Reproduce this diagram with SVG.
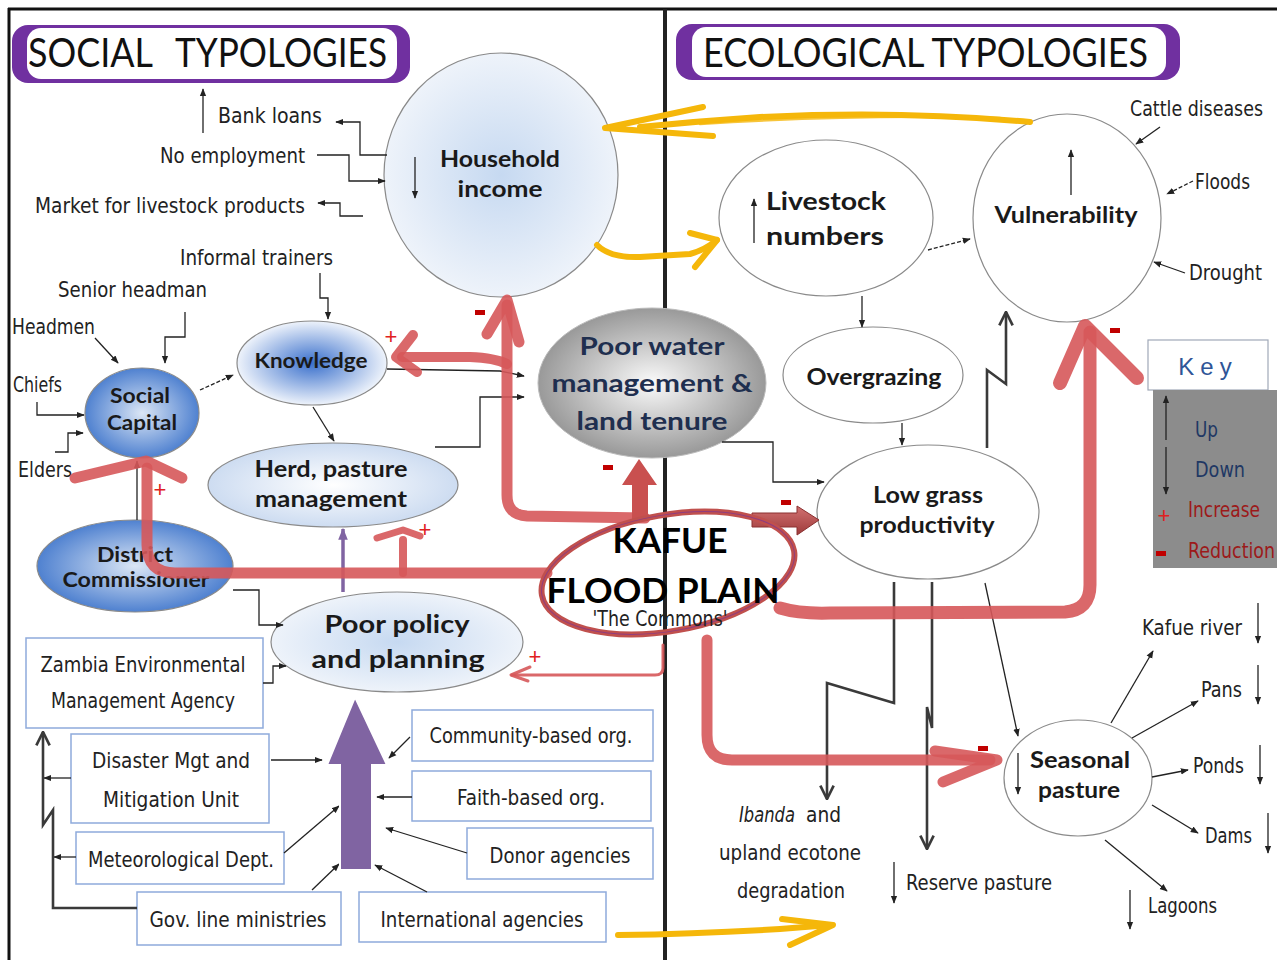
<svg xmlns="http://www.w3.org/2000/svg" width="1277" height="960" viewBox="0 0 1277 960">
<defs>
<style>
.n{font-family:'Liberation Sans Narrow','DejaVu Sans Condensed','Liberation Sans',sans-serif;font-size:22px;fill:#222}
.b{font-family:Lato,'Liberation Sans',sans-serif;font-weight:700;fill:#1a1a1a;text-anchor:middle}
.t{font-family:Lato,'Liberation Sans',sans-serif;font-size:40px;fill:#111}
.c{stroke:#222;stroke-width:1.3;fill:none}
.g{stroke:#3a3a3a;stroke-width:2.6;fill:none}
.r{stroke:#d6585a;fill:none;stroke-linecap:round;stroke-linejoin:round;opacity:0.9}
.y{stroke:#f5b70a;fill:none;stroke-linecap:round;stroke-linejoin:round}
.bx{fill:#fff;stroke:#8eaadb;stroke-width:1.5}
.nd{stroke:#8a8a8a;stroke-width:1.2}
.plus{font-family:'Liberation Sans',sans-serif;font-size:22px;fill:#e02020;text-anchor:middle}
.minus{fill:#c00000}
</style>
<marker id="a" viewBox="0 0 10 10" refX="9" refY="5" markerWidth="8" markerHeight="8" markerUnits="userSpaceOnUse" orient="auto"><path d="M0,1 L10,5 L0,9 z" fill="#222"/></marker>
<marker id="o" viewBox="0 0 12 12" refX="11" refY="6" markerWidth="16" markerHeight="16" markerUnits="userSpaceOnUse" orient="auto"><path d="M1,1 L11,6 L1,11" fill="none" stroke="#3a3a3a" stroke-width="2"/></marker>
<marker id="p" viewBox="0 0 10 10" refX="9" refY="5" markerWidth="12" markerHeight="12" markerUnits="userSpaceOnUse" orient="auto"><path d="M0,1 L10,5 L0,9 z" fill="#8064a2"/></marker>
<radialGradient id="gHH"><stop offset="0" stop-color="#c6d9f1"/><stop offset="1" stop-color="#eef3fa"/></radialGradient>
<radialGradient id="gSC"><stop offset="0" stop-color="#dbe6f5"/><stop offset="1" stop-color="#4f81d0"/></radialGradient>
<radialGradient id="gKn"><stop offset="0" stop-color="#3a70cc"/><stop offset="1" stop-color="#eef3fb"/></radialGradient>
<radialGradient id="gHe"><stop offset="0" stop-color="#ffffff"/><stop offset="1" stop-color="#cddcf1"/></radialGradient>
<radialGradient id="gGr"><stop offset="0" stop-color="#fafafa"/><stop offset="1" stop-color="#999999"/></radialGradient>
<linearGradient id="gD" x1="0" y1="0" x2="0" y2="1"><stop offset="0" stop-color="#d27272"/><stop offset="1" stop-color="#9e3a3a"/></linearGradient>
</defs>

<rect x="0" y="0" width="1277" height="960" fill="#fff"/>
<line x1="8" y1="9" x2="1277" y2="9" stroke="#111" stroke-width="3"/>
<line x1="9" y1="8" x2="9" y2="960" stroke="#111" stroke-width="3"/>
<line x1="665" y1="9" x2="665" y2="960" stroke="#222" stroke-width="4"/>

<g id="title-social">
<rect x="12" y="25" width="398" height="58" rx="16" fill="#7030a0"/>
<rect x="27" y="28" width="370" height="51" rx="14" fill="#fff"/>
<text class="t" x="28" y="67" textLength="125" lengthAdjust="spacingAndGlyphs">SOCIAL</text>
<text class="t" x="175" y="67" textLength="212" lengthAdjust="spacingAndGlyphs">TYPOLOGIES</text>
</g>
<g id="title-ecological">
<rect x="676" y="24" width="504" height="56" rx="16" fill="#7030a0"/>
<rect x="692" y="27" width="474" height="50" rx="14" fill="#fff"/>
<text class="t" x="703" y="67" textLength="445" lengthAdjust="spacingAndGlyphs">ECOLOGICAL TYPOLOGIES</text>
</g>

<g id="labels-social">
<text class="n" x="218" y="123" textLength="104" lengthAdjust="spacingAndGlyphs">Bank loans</text>
<text class="n" x="160" y="163" textLength="145" lengthAdjust="spacingAndGlyphs">No employment</text>
<text class="n" x="35" y="213" textLength="270" lengthAdjust="spacingAndGlyphs">Market for livestock products</text>
<text class="n" x="180" y="265" textLength="153" lengthAdjust="spacingAndGlyphs">Informal trainers</text>
<text class="n" x="58" y="297" textLength="149" lengthAdjust="spacingAndGlyphs">Senior headman</text>
<text class="n" x="12" y="334" textLength="83" lengthAdjust="spacingAndGlyphs">Headmen</text>
<text class="n" x="13" y="392" textLength="49" lengthAdjust="spacingAndGlyphs">Chiefs</text>
<text class="n" x="18" y="477" textLength="54" lengthAdjust="spacingAndGlyphs">Elders</text>
</g>

<g id="household">
<ellipse cx="501" cy="175" rx="117" ry="122" fill="url(#gHH)" class="nd"/>
<text class="b" x="500" y="167" font-size="23" textLength="120" lengthAdjust="spacingAndGlyphs">Household</text>
<text class="b" x="500" y="197" font-size="23" textLength="85" lengthAdjust="spacingAndGlyphs">income</text>
<line x1="415" y1="157" x2="415" y2="198" class="c" marker-end="url(#a)"/>
</g>

<g id="social-capital">
<ellipse cx="142" cy="413" rx="57" ry="45" fill="url(#gSC)" class="nd"/>
<text class="b" x="140" y="403" font-size="20" textLength="60" lengthAdjust="spacingAndGlyphs">Social</text>
<text class="b" x="142" y="430" font-size="20" textLength="70" lengthAdjust="spacingAndGlyphs">Capital</text>
</g>

<g id="knowledge">
<ellipse cx="312" cy="363" rx="75" ry="42" fill="url(#gKn)" class="nd"/>
<text class="b" x="311" y="368" font-size="20" textLength="113" lengthAdjust="spacingAndGlyphs">Knowledge</text>
</g>

<g id="herd">
<ellipse cx="333" cy="485" rx="125" ry="42" fill="url(#gHe)" class="nd"/>
<text class="b" x="331" y="477" font-size="22" textLength="153" lengthAdjust="spacingAndGlyphs">Herd, pasture</text>
<text class="b" x="331" y="507" font-size="22" textLength="152" lengthAdjust="spacingAndGlyphs">management</text>
</g>

<g id="district-commissioner">
<ellipse cx="135" cy="566" rx="98" ry="46" fill="url(#gSC)" class="nd"/>
<text class="b" x="135" y="562" font-size="20" textLength="76" lengthAdjust="spacingAndGlyphs">District</text>
<text class="b" x="136" y="587" font-size="20" textLength="147" lengthAdjust="spacingAndGlyphs">Commissioner</text>
</g>

<g id="poor-policy">
<ellipse cx="397" cy="642" rx="126" ry="50" fill="url(#gHH)" class="nd"/>
<text class="b" x="397" y="633" font-size="25" textLength="145" lengthAdjust="spacingAndGlyphs">Poor policy</text>
<text class="b" x="398" y="668" font-size="25" textLength="173" lengthAdjust="spacingAndGlyphs">and planning</text>
</g>

<g id="poor-water">
<ellipse cx="652" cy="383" rx="114" ry="75" fill="url(#gGr)" stroke="#bbb" stroke-width="1"/>
<text class="b" x="652" y="355" font-size="25" style="fill:#1f2f4f" textLength="145" lengthAdjust="spacingAndGlyphs">Poor water</text>
<text class="b" x="652" y="392" font-size="25" style="fill:#1f2f4f" textLength="201" lengthAdjust="spacingAndGlyphs">management &amp;</text>
<text class="b" x="652" y="430" font-size="25" style="fill:#1f2f4f" textLength="151" lengthAdjust="spacingAndGlyphs">land tenure</text>
</g>

<g id="livestock">
<ellipse cx="826" cy="218" rx="107" ry="78" fill="#fff" class="nd"/>
<text class="b" x="766" y="210" font-size="24" style="text-anchor:start" textLength="120" lengthAdjust="spacingAndGlyphs">Livestock</text>
<text class="b" x="766" y="245" font-size="24" style="text-anchor:start" textLength="118" lengthAdjust="spacingAndGlyphs">numbers</text>
<line x1="754" y1="243" x2="754" y2="199" class="c" marker-end="url(#a)"/>
</g>

<g id="vulnerability">
<ellipse cx="1067" cy="218" rx="94" ry="104" fill="#fff" class="nd"/>
<text class="b" x="1066" y="223" font-size="22" textLength="143" lengthAdjust="spacingAndGlyphs">Vulnerability</text>
<line x1="1071" y1="195" x2="1071" y2="150" class="c" marker-end="url(#a)"/>
</g>

<g id="overgrazing">
<ellipse cx="873" cy="375" rx="90" ry="48" fill="#fff" class="nd"/>
<text class="b" x="874" y="385" font-size="22" textLength="135" lengthAdjust="spacingAndGlyphs">Overgrazing</text>
</g>

<g id="low-grass">
<ellipse cx="928" cy="512" rx="111" ry="67" fill="#fff" class="nd"/>
<text class="b" x="928" y="503" font-size="22" textLength="110" lengthAdjust="spacingAndGlyphs">Low grass</text>
<text class="b" x="927" y="533" font-size="22" textLength="135" lengthAdjust="spacingAndGlyphs">productivity</text>
</g>

<g id="seasonal-pasture">
<ellipse cx="1078" cy="778" rx="74" ry="58" fill="#fff" class="nd"/>
<text class="b" x="1080" y="768" font-size="22" textLength="100" lengthAdjust="spacingAndGlyphs">Seasonal</text>
<text class="b" x="1079" y="798" font-size="22" textLength="82" lengthAdjust="spacingAndGlyphs">pasture</text>
<line x1="1018" y1="753" x2="1018" y2="794" class="c" marker-end="url(#a)"/>
</g>

<g id="labels-ecological">
<text class="n" x="1130" y="116" textLength="133" lengthAdjust="spacingAndGlyphs">Cattle diseases</text>
<text class="n" x="1195" y="189" textLength="55" lengthAdjust="spacingAndGlyphs">Floods</text>
<text class="n" x="1189" y="280" textLength="73" lengthAdjust="spacingAndGlyphs">Drought</text>
<text class="n" x="1142" y="635" textLength="100" lengthAdjust="spacingAndGlyphs">Kafue river</text>
<text class="n" x="1201" y="697" textLength="41" lengthAdjust="spacingAndGlyphs">Pans</text>
<text class="n" x="1193" y="773" textLength="51" lengthAdjust="spacingAndGlyphs">Ponds</text>
<text class="n" x="1205" y="843" textLength="47" lengthAdjust="spacingAndGlyphs">Dams</text>
<text class="n" x="1148" y="913" textLength="69" lengthAdjust="spacingAndGlyphs">Lagoons</text>
<text class="n" x="906" y="890" textLength="146" lengthAdjust="spacingAndGlyphs">Reserve pasture</text>
<text class="n" x="739" y="822" font-style="italic" textLength="56" lengthAdjust="spacingAndGlyphs">Ibanda</text>
<text class="n" x="806" y="822" textLength="35" lengthAdjust="spacingAndGlyphs">and</text>
<text class="n" x="719" y="860" textLength="142" lengthAdjust="spacingAndGlyphs">upland ecotone</text>
<text class="n" x="737" y="898" textLength="108" lengthAdjust="spacingAndGlyphs">degradation</text>
<line x1="1258" y1="603" x2="1258" y2="643" class="c" marker-end="url(#a)"/>
<line x1="1258" y1="665" x2="1258" y2="704" class="c" marker-end="url(#a)"/>
<line x1="1260" y1="745" x2="1260" y2="784" class="c" marker-end="url(#a)"/>
<line x1="1268" y1="813" x2="1268" y2="853" class="c" marker-end="url(#a)"/>
<line x1="1130" y1="890" x2="1130" y2="929" class="c" marker-end="url(#a)"/>
<line x1="894" y1="862" x2="894" y2="903" class="c" marker-end="url(#a)"/>
<line x1="203" y1="133" x2="203" y2="89" class="c" marker-end="url(#a)"/>
</g>

<g id="boxes">
<g id="zema"><rect class="bx" x="26" y="638" width="237" height="90"/>
<text class="n" x="143" y="672" text-anchor="middle" textLength="205" lengthAdjust="spacingAndGlyphs">Zambia Environmental</text>
<text class="n" x="143" y="708" text-anchor="middle" textLength="184" lengthAdjust="spacingAndGlyphs">Management Agency</text></g>
<g id="dmmu"><rect class="bx" x="71" y="734" width="198" height="89"/>
<text class="n" x="171" y="768" text-anchor="middle" textLength="158" lengthAdjust="spacingAndGlyphs">Disaster Mgt and</text>
<text class="n" x="171" y="807" text-anchor="middle" textLength="136" lengthAdjust="spacingAndGlyphs">Mitigation Unit</text></g>
<g id="met"><rect class="bx" x="76" y="832" width="208" height="52"/>
<text class="n" x="181" y="867" text-anchor="middle" textLength="186" lengthAdjust="spacingAndGlyphs">Meteorological Dept.</text></g>
<g id="gov"><rect class="bx" x="137" y="892" width="204" height="53"/>
<text class="n" x="238" y="927" text-anchor="middle" textLength="177" lengthAdjust="spacingAndGlyphs">Gov. line ministries</text></g>
<g id="intl"><rect class="bx" x="359" y="892" width="247" height="50"/>
<text class="n" x="482" y="927" text-anchor="middle" textLength="203" lengthAdjust="spacingAndGlyphs">International agencies</text></g>
<g id="cbo"><rect class="bx" x="412" y="710" width="241" height="51"/>
<text class="n" x="531" y="743" text-anchor="middle" textLength="203" lengthAdjust="spacingAndGlyphs">Community-based org.</text></g>
<g id="fbo"><rect class="bx" x="412" y="771" width="239" height="50"/>
<text class="n" x="531" y="805" text-anchor="middle" textLength="148" lengthAdjust="spacingAndGlyphs">Faith-based org.</text></g>
<g id="donor"><rect class="bx" x="467" y="828" width="186" height="51"/>
<text class="n" x="560" y="863" text-anchor="middle" textLength="141" lengthAdjust="spacingAndGlyphs">Donor agencies</text></g>
</g>

<g id="key">
<rect x="1148" y="340" width="120" height="50" fill="#fff" stroke="#a0a8b8" stroke-width="1.2"/>
<text x="1208" y="375" text-anchor="middle" font-family="'Liberation Sans Narrow','Liberation Sans',sans-serif" font-size="24" fill="#2f5597" letter-spacing="6">Key</text>
<rect x="1153" y="390" width="124" height="178" fill="#8c8c8c"/>
<line x1="1166" y1="440" x2="1166" y2="396" class="c" marker-end="url(#a)"/>
<line x1="1166" y1="447" x2="1166" y2="494" class="c" marker-end="url(#a)"/>
<text class="n" x="1195" y="437" style="fill:#1f3864" textLength="23" lengthAdjust="spacingAndGlyphs">Up</text>
<text class="n" x="1195" y="477" style="fill:#1f3864" textLength="50" lengthAdjust="spacingAndGlyphs">Down</text>
<text class="plus" x="1164" y="523">+</text>
<text class="n" x="1188" y="517" style="fill:#9c1a1a" textLength="72" lengthAdjust="spacingAndGlyphs">Increase</text>
<rect class="minus" x="1156" y="551" width="10" height="5"/>
<text class="n" x="1188" y="558" style="fill:#9c1a1a" textLength="87" lengthAdjust="spacingAndGlyphs">Reduction</text>
</g>

<g id="connectors">
<polyline class="c" points="387,155 360,155 360,122 336,122" marker-end="url(#a)"/>
<polyline class="c" points="317,155 349,155 349,181 385,181" marker-end="url(#a)"/>
<polyline class="c" points="363,216 340,216 340,203 318,203" marker-end="url(#a)"/>
<polyline class="c" points="320,273 320,298 328,298 328,319" marker-end="url(#a)"/>
<polyline class="c" points="185,312 185,337 165,337 165,363" marker-end="url(#a)"/>
<line class="c" x1="95" y1="338" x2="118" y2="363" marker-end="url(#a)"/>
<polyline class="c" points="37,402 37,415 84,415" marker-end="url(#a)"/>
<polyline class="c" points="55,452 68,452 68,433 83,433" marker-end="url(#a)"/>
<line class="c" x1="200" y1="390" x2="233" y2="375" stroke-dasharray="4,2" marker-end="url(#a)"/>
<line class="c" x1="313" y1="407" x2="334" y2="441" marker-end="url(#a)"/>
<polyline class="c" points="387,369 500,371 524,376" marker-end="url(#a)"/>
<polyline class="c" points="435,447 480,447 480,397 524,397" marker-end="url(#a)"/>
<polyline class="c" points="722,442 773,442 773,482 824,482" marker-end="url(#a)"/>
<line class="c" x1="862" y1="296" x2="862" y2="327" marker-end="url(#a)"/>
<line class="c" x1="902" y1="423" x2="902" y2="445" marker-end="url(#a)"/>
<line class="c" x1="928" y1="250" x2="970" y2="239" stroke-dasharray="4,2" marker-end="url(#a)"/>
<line class="c" x1="1160" y1="127" x2="1136" y2="144" marker-end="url(#a)"/>
<line class="c" x1="1193" y1="181" x2="1167" y2="194" stroke-dasharray="4,2" marker-end="url(#a)"/>
<line class="c" x1="1185" y1="273" x2="1154" y2="262" marker-end="url(#a)"/>
<line class="c" x1="985" y1="583" x2="1018" y2="736" marker-end="url(#a)"/>
<line class="c" x1="1111" y1="723" x2="1153" y2="651" marker-end="url(#a)"/>
<line class="c" x1="1132" y1="738" x2="1198" y2="701" marker-end="url(#a)"/>
<line class="c" x1="1152" y1="777" x2="1188" y2="770" marker-end="url(#a)"/>
<line class="c" x1="1152" y1="805" x2="1198" y2="833" marker-end="url(#a)"/>
<line class="c" x1="1105" y1="840" x2="1167" y2="891" marker-end="url(#a)"/>
<polyline class="c" points="233,590 259,590 259,625 283,625" marker-end="url(#a)"/>
<polyline class="c" points="263,683 273,683 273,666 286,666" marker-end="url(#a)"/>
<line class="c" x1="137" y1="520" x2="137" y2="461" marker-end="url(#a)"/>
<line class="c" x1="410" y1="737" x2="389" y2="758" marker-end="url(#a)"/>
<line class="c" x1="412" y1="797" x2="377" y2="797" marker-end="url(#a)"/>
<line class="c" x1="467" y1="853" x2="386" y2="828" marker-end="url(#a)"/>
<line class="c" x1="427" y1="892" x2="375" y2="865" marker-end="url(#a)"/>
<line class="c" x1="312" y1="890" x2="339" y2="864" marker-end="url(#a)"/>
<line class="c" x1="284" y1="853" x2="339" y2="806" marker-end="url(#a)"/>
<line class="c" x1="271" y1="760" x2="322" y2="760" marker-end="url(#a)"/>
<line class="c" x1="71" y1="778" x2="44" y2="778" marker-end="url(#a)"/>
<line class="c" x1="76" y1="857" x2="54" y2="857" marker-end="url(#a)"/>
<polyline class="g" points="137,908 53,908 53,810 43,825 43,732" stroke-width="2" marker-end="url(#o)"/>
<polyline class="g" points="987,448 987,370 1006,384 1006,312" marker-end="url(#o)"/>
<polyline class="g" points="894,582 894,703 827,683 827,799" marker-end="url(#o)"/>
<polyline class="g" points="932,582 932,728 927,707 927,849" marker-end="url(#o)"/>
<line x1="343" y1="592" x2="343" y2="529" stroke="#8064a2" stroke-width="3.5" marker-end="url(#p)"/>
<polygon points="340,870 372,870 372,765 387,765 355,697 327,765 340,765" fill="#8064a2" stroke="#fff" stroke-width="2"/>
<path class="y" d="M1030,122 Q900,110 760,117 Q700,121 640,127" stroke-width="6"/>
<path class="y" d="M1000,118 Q860,114 700,124" stroke-width="2.5" opacity="0.8"/>
<path class="y" d="M703,107 L605,128 L713,136" stroke-width="6"/>
<path class="y" d="M597,245 Q610,258 640,257 L690,254 Q705,250 717,240" stroke-width="6"/>
<path class="y" d="M690,233 L717,240 L695,267" stroke-width="6"/>
<path class="y" d="M618,935 Q700,934 780,929 L830,925" stroke-width="6"/>
<path class="y" d="M782,919 L833,925 L790,945" stroke-width="6"/>
<path class="r" d="M645,518 L527,516 Q507,515 507,495 L507,305" stroke-width="11"/>
<path class="r" d="M487,334 L507,300 L519,342" stroke-width="11"/>
<path class="r" d="M507,364 Q495,358 470,357 L402,357" stroke-width="10"/>
<path class="r" d="M413,335 L396,357 L417,372" stroke-width="10"/>
<path class="r" d="M547,573 L175,573 Q147,573 147,545 L147,468" stroke-width="11"/>
<path class="r" d="M75,478 L146,461 L182,478" stroke-width="11"/>
<path class="r" d="M403,573 L403,540" stroke-width="8"/>
<path class="r" d="M377,538 L403,530 L420,536" stroke-width="7"/>
<path class="r" d="M780,608 Q800,614 830,613 L1065,612 Q1090,610 1090,585 L1090,332" stroke-width="13"/>
<path class="r" d="M1060,383 L1085,326 L1137,378" stroke-width="14"/>
<path class="r" d="M707,640 L707,735 Q707,760 732,760 L990,760" stroke-width="11"/>
<path class="r" d="M935,751 L997,760 L943,782" stroke-width="11"/>
<path class="r" d="M663,645 L663,668 Q663,675 655,675 L512,675" stroke-width="3"/>
<path class="r" d="M530,667 L511,675 L528,681" stroke-width="3"/>
<polygon points="632,521 632,485 622,485 639,459 657,485 648,485 648,521" fill="#c9504f"/>
<polygon points="752,513 797,513 797,506 819,520 797,535 797,527 752,527" fill="url(#gD)" stroke="#8a3030" stroke-width="1"/>
<text class="plus" x="391" y="344">+</text>
<text class="plus" x="160" y="497">+</text>
<text class="plus" x="425" y="537">+</text>
<text class="plus" x="535" y="664">+</text>
<rect class="minus" x="475" y="310" width="10" height="5"/>
<rect class="minus" x="603" y="465" width="10" height="5"/>
<rect class="minus" x="781" y="500" width="10" height="5"/>
<rect class="minus" x="1110" y="328" width="10" height="5"/>
<rect class="minus" x="978" y="746" width="10" height="5"/>
</g>

<g id="kafue">
<ellipse cx="668" cy="573" rx="128" ry="58" transform="rotate(-10 668 573)" fill="none" stroke="#c0504d" stroke-width="6"/>
<ellipse cx="668" cy="573" rx="128" ry="58" transform="rotate(-10 668 573)" fill="none" stroke="#7030a0" stroke-width="1" opacity="0.6"/>
<text class="b" x="670" y="553" font-size="35" style="fill:#000" textLength="115" lengthAdjust="spacingAndGlyphs">KAFUE</text>
<text class="b" x="663" y="603" font-size="35" style="fill:#000" textLength="233" lengthAdjust="spacingAndGlyphs">FLOOD PLAIN</text>
<text class="n" x="660" y="626" text-anchor="middle" font-size="19" textLength="135" lengthAdjust="spacingAndGlyphs">'The Commons'</text>
</g>
</svg>
